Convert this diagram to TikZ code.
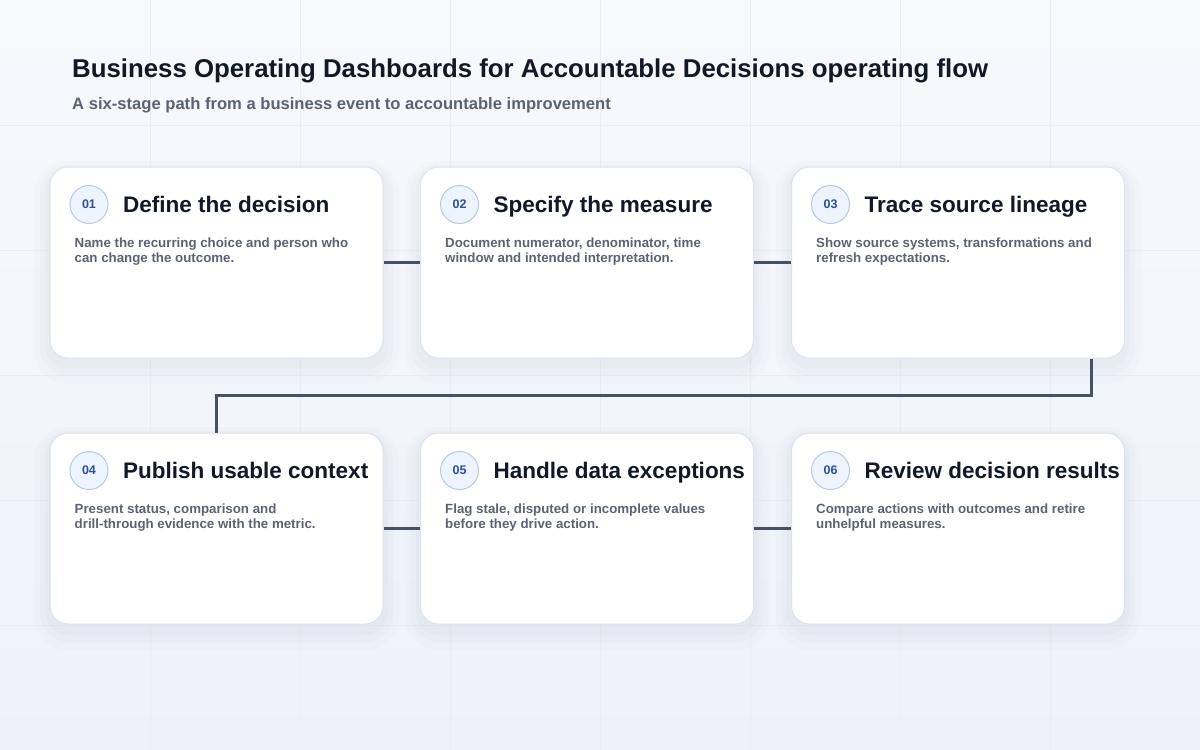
\documentclass[tikz,border=0pt]{standalone}
\usepackage{fontspec}
\setmainfont{Liberation Sans}
\usetikzlibrary{positioning}
\definecolor{encre}{HTML}{111827}
\definecolor{gris}{HTML}{5B6372}
\definecolor{bordure}{HTML}{DCE3EC}
\definecolor{anneau}{HTML}{B9C8E2}
\definecolor{pastillefond}{HTML}{EEF4FD}
\definecolor{pastilletexte}{HTML}{2D4F9C}
\definecolor{trait}{HTML}{465263}
\definecolor{fondhaut}{HTML}{F8F9FB}
\definecolor{fondbas}{HTML}{EDF2FA}
\definecolor{quadrillage}{HTML}{EAEEF4}
\definecolor{ombre}{HTML}{7F8EA8}

\begin{document}
\begin{tikzpicture}[x=1pt,y=-1pt]
            % Styles (MODIFIABLES)
            \tikzstyle{carte}=[draw=bordure,line width=1pt,fill=white,rounded corners=18pt,minimum width=333pt,minimum height=191pt,inner sep=0pt,
              preaction={draw=ombre,line width=32pt,opacity=0.022,transform canvas={yshift=-10pt}},
              preaction={draw=ombre,line width=20pt,opacity=0.03,transform canvas={yshift=-8pt}},
              preaction={draw=ombre,line width=10pt,opacity=0.04,transform canvas={yshift=-6pt}}]
            \tikzstyle{pastille}=[circle,draw=anneau,fill=pastillefond,line width=1pt,minimum size=38pt,inner sep=0pt,text=pastilletexte,font=\fontsize{12.5}{14}\selectfont\bfseries]
            \tikzstyle{titre}=[anchor=base west,inner sep=0pt,text=encre,font=\fontsize{22.5}{26}\selectfont\bfseries]
            \tikzstyle{texte}=[anchor=north west,inner sep=0pt,text=gris,align=left,font=\fontsize{13.3}{15}\selectfont\bfseries]
            \tikzstyle{lien}=[draw=trait,line width=3pt]
            \tikzstyle{grille}=[draw=quadrillage,line width=0.8pt]
            % Dimensions (MODIFIABLES)
            \def\ColonneA{216.5}
            \def\ColonneB{587}
            \def\ColonneC{958}
            \def\RangeeA{262.5}
            \def\RangeeB{528.5}
            % Fond
            \useasboundingbox (0,0) rectangle (1200,750);
            \shade[top color=fondhaut,bottom color=fondbas] (0,0) rectangle (1200,750);
            \foreach \x in {150,300,...,1050} \draw[grille] (\x,0) -- (\x,750);
            \foreach \y in {125,250,...,625} \draw[grille] (0,\y) -- (1200,\y);
            % En-tete
            \node[anchor=base west,inner sep=0pt,text=encre,font=\fontsize{25.8}{30}\selectfont\bfseries] (titre) at (72,77) {Business Operating Dashboards for Accountable Decisions operating flow};
            \node[anchor=base west,inner sep=0pt,text=gris,font=\fontsize{16.6}{20}\selectfont\bfseries] (soustitre) at (72,109) {A six-stage path from a business event to accountable improvement};
            % Cartes (MODIFIABLES)
            \node[carte] (E1) at (\ColonneA,\RangeeA) {};
            \node[carte] (E2) at (\ColonneB,\RangeeA) {};
            \node[carte] (E3) at (\ColonneC,\RangeeA) {};
            \node[carte] (E4) at (\ColonneA,\RangeeB) {};
            \node[carte] (E5) at (\ColonneB,\RangeeB) {};
            \node[carte] (E6) at (\ColonneC,\RangeeB) {};
            % Pastilles
            \node[pastille] (P1) at ([xshift=39.5pt,yshift=-38pt]E1.north west) {01};
            \node[pastille] (P2) at ([xshift=39.5pt,yshift=-38pt]E2.north west) {02};
            \node[pastille] (P3) at ([xshift=39.5pt,yshift=-38pt]E3.north west) {03};
            \node[pastille] (P4) at ([xshift=39.5pt,yshift=-38pt]E4.north west) {04};
            \node[pastille] (P5) at ([xshift=39.5pt,yshift=-38pt]E5.north west) {05};
            \node[pastille] (P6) at ([xshift=39.5pt,yshift=-38pt]E6.north west) {06};
            % Titres
            \node[titre] (T1) at ([xshift=14.5pt,yshift=-8pt]P1.east) {Define the decision};
            \node[titre] (T2) at ([xshift=14.5pt,yshift=-8pt]P2.east) {Specify the measure};
            \node[titre] (T3) at ([xshift=14.5pt,yshift=-8pt]P3.east) {Trace source lineage};
            \node[titre] (T4) at ([xshift=14.5pt,yshift=-8pt]P4.east) {Publish usable context};
            \node[titre] (T5) at ([xshift=14.5pt,yshift=-8pt]P5.east) {Handle data exceptions};
            \node[titre] (T6) at ([xshift=14.5pt,yshift=-8pt]P6.east) {Review decision results};
            % Descriptions
            \node[texte] (D1) at ([xshift=25pt,yshift=-71.5pt]E1.north west) {Name the recurring choice and person who\\can change the outcome.};
            \node[texte] (D2) at ([xshift=25pt,yshift=-71.5pt]E2.north west) {Document numerator, denominator, time\\window and intended interpretation.};
            \node[texte] (D3) at ([xshift=25pt,yshift=-71.5pt]E3.north west) {Show source systems, transformations and\\refresh expectations.};
            \node[texte] (D4) at ([xshift=25pt,yshift=-71.5pt]E4.north west) {Present status, comparison and\\drill-through evidence with the metric.};
            \node[texte] (D5) at ([xshift=25pt,yshift=-71.5pt]E5.north west) {Flag stale, disputed or incomplete values\\before they drive action.};
            \node[texte] (D6) at ([xshift=25pt,yshift=-71.5pt]E6.north west) {Compare actions with outcomes and retire\\unhelpful measures.};
            % Arcs (MODIFIABLES : Styles)
            \coordinate (depart) at ([xshift=133pt]E3.south);
            \coordinate (coude) at (\ColonneA,395);
            \draw[lien] (E1.east) -- (E2.west);
            \draw[lien] (E2.east) -- (E3.west);
            \draw[lien] (depart) |- (coude) -- (E4.north);
            \draw[lien] (E4.east) -- (E5.west);
            \draw[lien] (E5.east) -- (E6.west);
\end{tikzpicture}
\end{document}
